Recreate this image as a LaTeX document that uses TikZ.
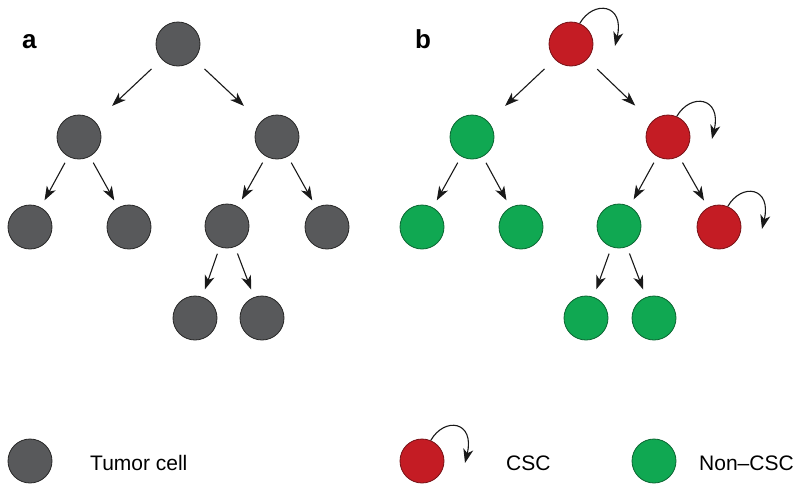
\documentclass[tikz,border=0pt]{standalone}
\usepackage{fontspec}
\setmainfont{Liberation Sans}
\usetikzlibrary{arrows.meta}
\definecolor{cellgray}{RGB}{88,89,91}
\definecolor{cellred}{RGB}{196,28,36}
\definecolor{cellgreen}{RGB}{16,168,82}
\begin{document}
\begin{tikzpicture}[x=1pt,y=-1pt,
  cell/.style={circle,minimum size=44pt,inner sep=0pt,line width=0.8pt},
  tumor/.style={cell,fill=cellgray,draw=black!85},
  csc/.style={cell,fill=cellred,draw=black!40!cellred},
  noncsc/.style={cell,fill=cellgreen,draw=black!40!cellgreen},
  div/.style={-{Stealth[length=14pt,width=10pt,inset=4pt]},line width=1.1pt,draw=black!90},
  toplevel/.style={div,shorten <=14pt,shorten >=23pt},
  lowlevel/.style={div,shorten <=7pt,shorten >=8pt},
  renew/.style={div},
  panel/.style={font=\bfseries\fontsize{26}{26}\selectfont,anchor=base west,inner sep=0pt},
  legend/.style={font=\fontsize{21}{21}\selectfont,anchor=base west,inner sep=0pt}]
\useasboundingbox (0,0) rectangle (796,483);

% panel a: every cell is the same kind
\node[panel] (la) at (22,48) {a};
\node[tumor] (a1) at (178,44) {};
\node[tumor] (a2) at (79,137) {};
\node[tumor] (a3) at (277,137) {};
\node[tumor] (a4) at (30,227) {};
\node[tumor] (a5) at (129,227) {};
\node[tumor] (a6) at (227,226) {};
\node[tumor] (a7) at (327,227) {};
\node[tumor] (a8) at (195,318) {};
\node[tumor] (a9) at (262,318) {};
\draw[toplevel] (a1) -- (a2);
\draw[toplevel] (a1) -- (a3);
\draw[lowlevel] (a2) -- (a4);
\draw[lowlevel] (a2) -- (a5);
\draw[lowlevel] (a3) -- (a6);
\draw[lowlevel] (a3) -- (a7);
\draw[lowlevel] (a6) -- (a8);
\draw[lowlevel] (a6) -- (a9);

% panel b: stem cells renew themselves
\node[panel] (lb) at (415,48) {b};
\node[csc] (b1) at (571,44) {};
\node[noncsc] (b2) at (472,137) {};
\node[csc] (b3) at (668,137) {};
\node[noncsc] (b4) at (422,227) {};
\node[noncsc] (b5) at (521,227) {};
\node[noncsc] (b6) at (619,226) {};
\node[csc] (b7) at (719,227) {};
\node[noncsc] (b8) at (586,318) {};
\node[noncsc] (b9) at (654,318) {};
\draw[toplevel] (b1) -- (b2);
\draw[toplevel] (b1) -- (b3);
\draw[lowlevel] (b2) -- (b4);
\draw[lowlevel] (b2) -- (b5);
\draw[lowlevel] (b3) -- (b6);
\draw[lowlevel] (b3) -- (b7);
\draw[lowlevel] (b6) -- (b8);
\draw[lowlevel] (b6) -- (b9);

% self-renewal loops
\coordinate (r1) at (615,46);
\coordinate (r3) at (712,139);
\coordinate (r7) at (762,229);
\draw[renew] (b1.67) .. controls +(14,-24) and +(10,-42) .. (r1);
\draw[renew] (b3.67) .. controls +(14,-24) and +(10,-42) .. (r3);
\draw[renew] (b7.67) .. controls +(14,-24) and +(10,-42) .. (r7);

% legend
\node[tumor] (k1) at (30,461) {};
\node[legend] (t1) at (90,470) {Tumor cell};
\node[csc] (k2) at (422,461) {};
\coordinate (rk) at (465,463);
\draw[renew] (k2.67) .. controls +(14,-24) and +(10,-42) .. (rk);
\node[legend] (t2) at (506,470) {CSC};
\node[noncsc] (k3) at (654,461) {};
\node[legend] (t3) at (699,470) {Non--CSC};
\end{tikzpicture}
\end{document}
